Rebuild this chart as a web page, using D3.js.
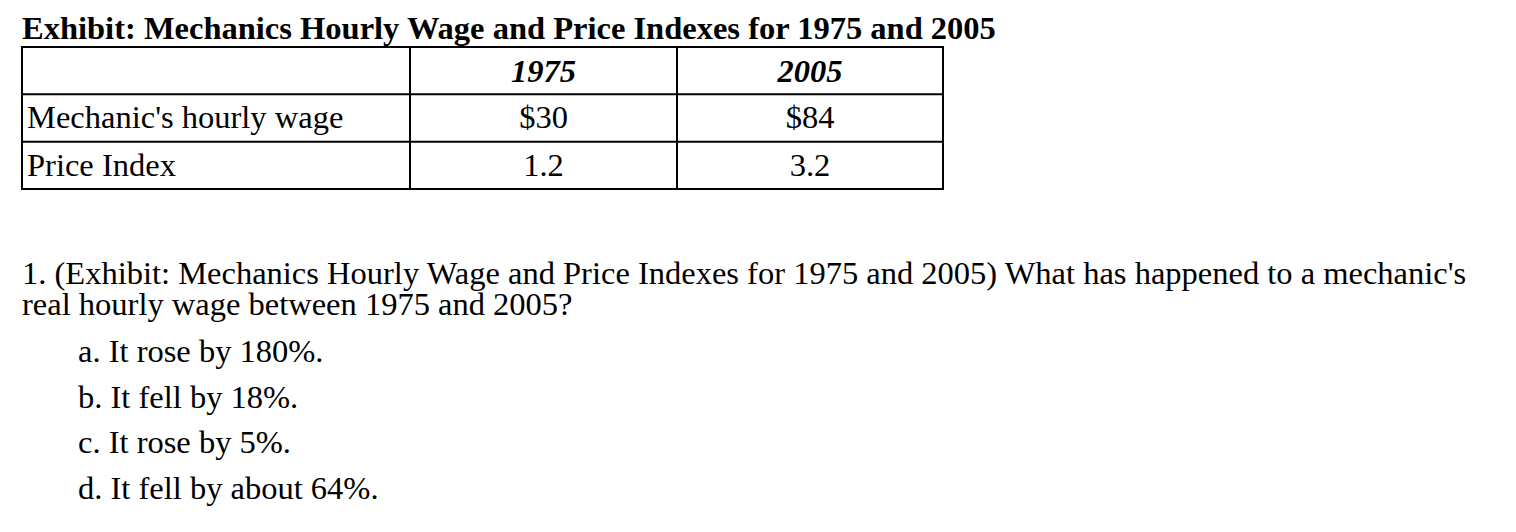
<!DOCTYPE html>
<html><head><meta charset="utf-8">
<script src="https://cdn.jsdelivr.net/npm/d3@7"></script>
<style>body{margin:0;background:#fff}</style>
</head><body>
<script>
// table data
var title = "Exhibit: Mechanics Hourly Wage and Price Indexes for 1975 and 2005";
var years = ["1975", "2005"];
var rowLabels = ["Mechanic's hourly wage", "Price Index"];
var wage = ["$30", "$84"];
var priceIndex = ["1.2", "3.2"];
var question = ["1. (Exhibit: Mechanics Hourly Wage and Price Indexes for 1975 and 2005) What has happened to a mechanic's",
                "real hourly wage between 1975 and 2005?"];
var options = ["a. It rose by 180%.", "b. It fell by 18%.", "c. It rose by 5%.", "d. It fell by about 64%."];

var rows = [wage, priceIndex];
var font = "'Liberation Serif', 'Times New Roman', serif";

var svg = d3.select("body").append("svg").attr("width", 1516).attr("height", 532)
  .style("font-family", font).style("font-size", "32.5px");

svg.append("text").attr("x", 22).attr("y", 39).attr("font-weight", "bold").text(title);

// column and row scales
var x = d3.scaleOrdinal().domain(["label", "1975", "2005"]).range([22, 410, 677]);
var colRight = 943;
var y = d3.scaleBand().domain(["head"].concat(rowLabels)).range([47, 189]);

var g = svg.append("g").attr("stroke", "#000").attr("stroke-width", 2);
g.append("rect").attr("x", 22).attr("y", 47).attr("width", colRight - 22).attr("height", 142).attr("fill", "none");
y.domain().slice(1).forEach(function(r) {
  g.append("line").attr("x1", 22).attr("x2", colRight).attr("y1", y(r)).attr("y2", y(r));
});
years.forEach(function(yr) {
  g.append("line").attr("x1", x(yr)).attr("x2", x(yr)).attr("y1", 47).attr("y2", 189);
});

function center(i) {
  var left = x(years[i]);
  var right = i + 1 < years.length ? x(years[i + 1]) : colRight;
  return (left + right) / 2;
}

years.forEach(function(yr, i) {
  svg.append("text").attr("x", center(i)).attr("y", y("head") + 35)
    .attr("text-anchor", "middle").attr("font-weight", "bold").attr("font-style", "italic").text(yr);
});
rowLabels.forEach(function(lab, r) {
  svg.append("text").attr("x", 27).attr("y", y(lab) + 34).text(lab);
  rows[r].forEach(function(v, i) {
    svg.append("text").attr("x", center(i)).attr("y", y(lab) + 34).attr("text-anchor", "middle").text(v);
  });
});

question.forEach(function(t, i) {
  svg.append("text").attr("x", 22).attr("y", 284 + i * 31).text(t);
});
var oy = d3.scalePoint().domain(options).range([362, 499]);
options.forEach(function(t) {
  svg.append("text").attr("x", 78).attr("y", oy(t)).text(t);
});
</script>
</body></html>
